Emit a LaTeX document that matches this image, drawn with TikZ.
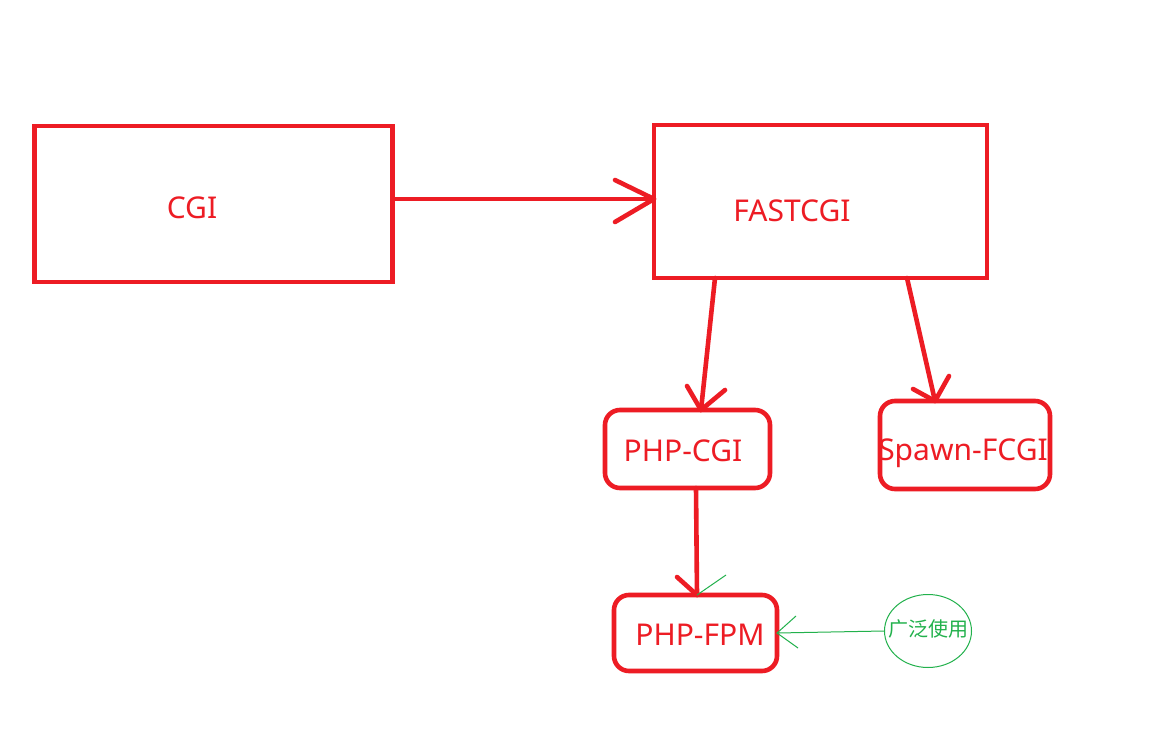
\documentclass[tikz,border=0pt]{standalone}
\usepackage{fontspec}
\setmainfont{Noto Sans}
\newfontfamily\cjk{Noto Sans CJK SC}
\usetikzlibrary{calc,shapes.geometric}
\definecolor{pred}{HTML}{ED1C24}
\definecolor{pgreen}{HTML}{22B14C}
\begin{document}
\begin{tikzpicture}[x=1pt,y=-1pt,
  redbox/.style={draw=pred,line width=4.6pt,inner sep=0pt,outer sep=0pt},
  roundbox/.style={redbox,rounded corners=15pt},
  lbl/.style={text=pred,font=\fontsize{30}{36}\selectfont,inner sep=0pt},
  redline/.style={draw=pred,line width=4.6pt,line cap=round,line join=round},
  greenline/.style={draw=pgreen,line width=1pt}]
\useasboundingbox (0,0) rectangle (1164,736);
\fill[white] (0,0) rectangle (1164,736);
% boxes
\node[redbox,minimum width=358pt,minimum height=156pt] (cgi) at (213.5,204) {};
\node[redbox,minimum width=333pt,minimum height=153pt] (fast) at (820.5,201.5) {};
\node[roundbox,minimum width=165pt,minimum height=78pt] (phpcgi) at (687.5,449) {};
\node[roundbox,minimum width=170pt,minimum height=88pt] (spawn) at (965,445) {};
\node[roundbox,minimum width=163pt,minimum height=76pt] (fpm) at (695.5,633) {};
\node[draw=pgreen,line width=1pt,ellipse,minimum width=87pt,minimum height=73pt,inner sep=0pt] (wide) at (928,631) {};
% labels
\node[lbl] (tcgi) at (192,208) {CGI};
\node[lbl] (tfast) at (792,211) {FASTCGI};
\node[lbl] (tphpcgi) at (683,451) {PHP-CGI};
\node[lbl] (tspawn) at (963,453) {Spawn-FCGI};
\node[lbl] (tfpm) at (700,635) {PHP-FPM};
\node[text=pgreen,font=\cjk\fontsize{20}{24}\selectfont,inner sep=0pt] (twide) at (928,629) {广泛使用};
% CGI -> FASTCGI
\coordinate (t1) at (fast.west |- 0,199);
\draw[redline] (cgi.east |- 0,199) -- (t1);
\draw[redline] ($(t1)+(-39,-19)$) -- (t1) -- ($(t1)+(-39,23)$);
% FASTCGI -> PHP-CGI
\coordinate (t2) at (phpcgi.north -| 701,0);
\draw[redline] (fast.south -| 715,0) -- (t2);
\draw[redline] ($(t2)+(-14,-24)$) -- (t2) -- ($(t2)+(24,-20)$);
% FASTCGI -> Spawn-FCGI
\coordinate (t3) at (spawn.north -| 935,0);
\draw[redline] (fast.south -| 907,0) -- (t3);
\draw[redline] ($(t3)+(-22,-12)$) -- (t3) -- ($(t3)+(14,-25)$);
% PHP-CGI -> PHP-FPM
\coordinate (t4) at (fpm.north -| 697,0);
\draw[redline] (phpcgi.south -| 696,0) -- (t4);
\draw[redline] ($(t4)+(-20,-18)$) -- (t4);
\draw[greenline] (t4) -- ($(t4)+(29,-20)$);
% wide use -> PHP-FPM
\coordinate (t5) at (fpm.east |- 0,633);
\draw[greenline] (wide.west) -- (t5);
\draw[greenline] ($(t5)+(19,-17)$) -- (t5) -- ($(t5)+(21,15)$);
\end{tikzpicture}
\end{document}
